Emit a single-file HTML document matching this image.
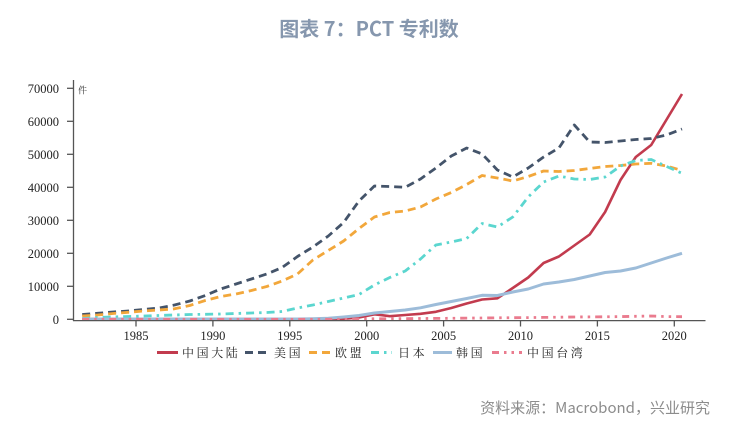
<!DOCTYPE html>
<html><head><meta charset="utf-8"><style>
html,body{margin:0;padding:0;background:#fff;}
svg{display:block;}
</style></head><body>
<svg width="731" height="428" viewBox="0 0 731 428" xmlns="http://www.w3.org/2000/svg">
<rect width="731" height="428" fill="#fff"/>
<text x="369" y="36" text-anchor="middle" font-family="'Noto Sans CJK SC','Liberation Sans',sans-serif" font-size="20" font-weight="bold" fill="#8697ae">图表 7：PCT 专利数</text>

<g font-family="'Liberation Serif',serif" font-size="12.5" fill="#222" text-anchor="end">
<text x="59" y="92.8">70000</text>
<text x="59" y="125.8">60000</text>
<text x="59" y="158.8">50000</text>
<text x="59" y="191.8">40000</text>
<text x="59" y="224.8">30000</text>
<text x="59" y="257.8">20000</text>
<text x="59" y="290.8">10000</text>
<text x="59" y="323.8">0</text>
</g>
<text x="78" y="93.5" font-family="'Noto Serif CJK SC',serif" font-size="9" fill="#333">件</text>

<g font-family="'Liberation Serif',serif" font-size="12.5" fill="#222" text-anchor="middle">
<text x="136" y="340">1985</text>
<text x="212.9" y="340">1990</text>
<text x="289.8" y="340">1995</text>
<text x="366.7" y="340">2000</text>
<text x="443.6" y="340">2005</text>
<text x="520.5" y="340">2010</text>
<text x="597.4" y="340">2015</text>
<text x="674.3" y="340">2020</text>
</g>

<g fill="none" stroke-linejoin="round">
<polyline stroke="#c23b4e" stroke-width="2.6" points="82.2,319.3 97.6,319.3 113,319.3 128.3,319.3 143.7,319.3 159.1,319.3 174.5,319.3 189.8,319.3 205.2,319.3 220.6,319.3 236,319.3 251.4,319.3 266.8,319.3 282.1,319.3 297.5,319.3 312.9,319.3 328.3,319.2 343.6,318.8 359,317.5 374.4,314.3 389.8,316.2 405.2,315 420.5,313.8 435.9,311.8 451.3,308 466.7,303.5 482.1,299.5 497.4,298.3 512.8,288 528.2,277.5 543.6,263 558.9,256.5 574.3,245.5 589.7,234.5 605.1,212 620.5,180 635.8,157 651.2,145 666.6,119.5 682,94"/>
<polyline stroke="#44546a" stroke-width="2.8" stroke-dasharray="8 5" points="82.2,314.5 97.6,313.3 113,312 128.3,311 143.7,309.5 159.1,308 174.5,305 189.8,301 205.2,295.5 220.6,289 236,284 251.4,279 266.8,274 282.1,267.5 297.5,256.5 312.9,247 328.3,236 343.6,222.5 359,201 374.4,186 389.8,186.5 405.2,187.3 420.5,179 435.9,168 451.3,156 466.7,148 482.1,154 497.4,170 512.8,177 528.2,168 543.6,157 558.9,148 574.3,125 589.7,142 605.1,142.5 620.5,141 635.8,139.5 651.2,138.5 666.6,135 682,129"/>
<polyline stroke="#f2a73b" stroke-width="2.8" stroke-dasharray="8 5" points="82.2,316 97.6,315 113,313.5 128.3,312.3 143.7,311 159.1,310 174.5,308.8 189.8,305.5 205.2,300.5 220.6,296.5 236,294 251.4,290.5 266.8,286.5 282.1,281 297.5,274 312.9,260 328.3,250.5 343.6,241 359,228.5 374.4,217 389.8,212.5 405.2,211 420.5,207 435.9,199 451.3,192.5 466.7,184.5 482.1,175.5 497.4,178 512.8,181 528.2,176.5 543.6,171 558.9,171.5 574.3,170.5 589.7,168.5 605.1,166.5 620.5,165.5 635.8,164 651.2,163.3 666.6,166 682,170.5"/>
<polyline stroke="#5bd6cf" stroke-width="2.8" stroke-dasharray="8 5 2.5 5" points="82.2,318.5 97.6,317.5 113,317 128.3,316.5 143.7,316 159.1,315.5 174.5,315 189.8,314.5 205.2,314.3 220.6,314 236,313.5 251.4,313 266.8,312.5 282.1,311.5 297.5,308 312.9,305 328.3,301.5 343.6,298 359,294.5 374.4,285 389.8,277.5 405.2,271 420.5,259 435.9,245 451.3,242 466.7,238.5 482.1,223.5 497.4,227 512.8,217 528.2,197 543.6,182 558.9,176 574.3,179 589.7,179.5 605.1,177 620.5,166 635.8,160.5 651.2,159.5 666.6,166.5 682,173.3"/>
<polyline stroke="#9dbcd9" stroke-width="3" points="82.2,319 97.6,319 113,319 128.3,319 143.7,319 159.1,319 174.5,319 189.8,319 205.2,319 220.6,319 236,319 251.4,319 266.8,319 282.1,319 297.5,319 312.9,318.8 328.3,318.3 343.6,317 359,315.5 374.4,313 389.8,311.5 405.2,310 420.5,307.8 435.9,304.5 451.3,301.5 466.7,298.5 482.1,295.3 497.4,295.5 512.8,292 528.2,289 543.6,284 558.9,282 574.3,279.5 589.7,276 605.1,272.5 620.5,271 635.8,268 651.2,263 666.6,258 682,253.3"/>
<polyline stroke="#ea7b8e" stroke-width="2.8" stroke-dasharray="7 5 2.5 5 2.5 5" points="82.2,319.3 97.6,319.3 113,319.3 128.3,319.3 143.7,319.3 159.1,319.3 174.5,319.3 189.8,319.3 205.2,319.3 220.6,319.3 236,319.3 251.4,319.3 266.8,319.3 282.1,319.3 297.5,319.3 312.9,319.3 328.3,319.3 343.6,319.3 359,319 374.4,318.8 389.8,318.7 405.2,318.6 420.5,318.5 435.9,318.4 451.3,318.3 466.7,318.1 482.1,318 497.4,317.8 512.8,317.7 528.2,317.6 543.6,317.4 558.9,317.2 574.3,317 589.7,316.9 605.1,316.8 620.5,316.6 635.8,316.3 651.2,316 666.6,316.6 682,316.7"/>
</g>

<g stroke="#555" stroke-width="1.3" fill="none">
<line x1="73.5" y1="80" x2="73.5" y2="321"/>
<line x1="73" y1="320.6" x2="705.5" y2="320.6"/>
<line x1="67" y1="88.3" x2="73.5" y2="88.3"/>
<line x1="67" y1="121.3" x2="73.5" y2="121.3"/>
<line x1="67" y1="154.3" x2="73.5" y2="154.3"/>
<line x1="67" y1="187.3" x2="73.5" y2="187.3"/>
<line x1="67" y1="220.3" x2="73.5" y2="220.3"/>
<line x1="67" y1="253.3" x2="73.5" y2="253.3"/>
<line x1="67" y1="286.3" x2="73.5" y2="286.3"/>
<line x1="67" y1="319.3" x2="73.5" y2="319.3"/>
<line x1="136" y1="320.6" x2="136" y2="326.5"/>
<line x1="212.9" y1="320.6" x2="212.9" y2="326.5"/>
<line x1="289.8" y1="320.6" x2="289.8" y2="326.5"/>
<line x1="366.7" y1="320.6" x2="366.7" y2="326.5"/>
<line x1="443.6" y1="320.6" x2="443.6" y2="326.5"/>
<line x1="520.5" y1="320.6" x2="520.5" y2="326.5"/>
<line x1="597.4" y1="320.6" x2="597.4" y2="326.5"/>
<line x1="674.3" y1="320.6" x2="674.3" y2="326.5"/>
</g>

<g stroke-width="3" fill="none">
<line x1="157" y1="352.5" x2="178" y2="352.5" stroke="#c23b4e"/>
<line x1="245" y1="352.5" x2="266" y2="352.5" stroke="#44546a" stroke-dasharray="8 5"/>
<line x1="309" y1="352.5" x2="330" y2="352.5" stroke="#f2a73b" stroke-dasharray="8 5"/>
<line x1="371" y1="352.5" x2="392" y2="352.5" stroke="#5bd6cf" stroke-dasharray="8 5 2.5 5"/>
<line x1="433" y1="352.5" x2="452" y2="352.5" stroke="#9dbcd9"/>
<line x1="492" y1="352.5" x2="522" y2="352.5" stroke="#ea7b8e" stroke-dasharray="7 5 2.5 5 2.5 5"/>
</g>
<g font-family="'Noto Serif CJK SC',serif" font-size="12" fill="#222" letter-spacing="2.6">
<text x="182" y="357">中国大陆</text>
<text x="274" y="357">美国</text>
<text x="335" y="357">欧盟</text>
<text x="398" y="357">日本</text>
<text x="456" y="357">韩国</text>
<text x="527" y="357">中国台湾</text>
</g>

<text x="710" y="413" text-anchor="end" font-family="'Noto Sans CJK SC','Liberation Sans',sans-serif" font-size="15" fill="#8c8c8c">资料来源：Macrobond，兴业研究</text>
</svg>
</body></html>
